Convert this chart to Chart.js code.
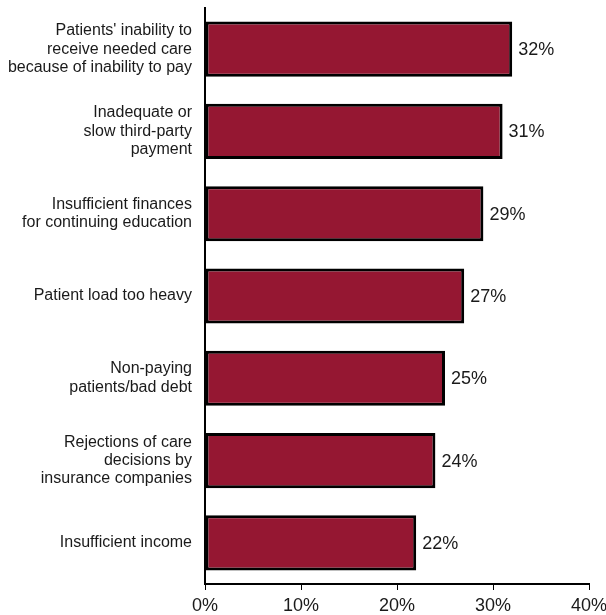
<!DOCTYPE html>
<html>
<head>
<meta charset="utf-8">
<script src="https://cdn.jsdelivr.net/npm/chart.js@4.4.1/dist/chart.umd.min.js"></script>
<style>
  html, body { margin: 0; padding: 0; background: #fff; }
  #wrap { width: 606px; height: 615px; }
</style>
</head>
<body>
<div id="wrap"><canvas id="c" width="606" height="615"></canvas></div>
<script>
// Survey categories (multi-line labels) and their shares in percent
const categories = [
  ["Patients' inability to", "receive needed care", "because of inability to pay"],
  ["Inadequate or", "slow third-party", "payment"],
  ["Insufficient finances", "for continuing education"],
  ["Patient load too heavy"],
  ["Non-paying", "patients/bad debt"],
  ["Rejections of care", "decisions by", "insurance companies"],
  ["Insufficient income"]
];
const shares = [32, 31, 29, 27, 25, 24, 22];
const axisTicks = [0, 10, 20, 30, 40];

const FONT = "'Liberation Sans', Arial, sans-serif";

// Writes the percentage just past the end of each bar
const valueLabels = {
  id: 'valueLabels',
  afterDatasetsDraw(chart) {
    const ctx = chart.ctx;
    const meta = chart.getDatasetMeta(0);
    ctx.save();
    ctx.font = '18px ' + FONT;
    ctx.fillStyle = '#1a1a1a';
    ctx.textAlign = 'left';
    ctx.textBaseline = 'middle';
    meta.data.forEach((bar, i) => {
      ctx.fillText(shares[i] + '%', bar.x + 6, bar.y + 1);
    });
    ctx.restore();
  }
};

new Chart(document.getElementById('c'), {
  type: 'bar',
  data: {
    labels: categories,
    datasets: [{
      data: shares,
      backgroundColor: '#951732',
      borderColor: '#000000',
      borderWidth: 3,
      borderSkipped: false,
      categoryPercentage: 1,
      barPercentage: 0.67
    }]
  },
  options: {
    indexAxis: 'y',
    responsive: false,
    animation: false,
    devicePixelRatio: 1,
    layout: { padding: { top: 8, right: 17, left: 0, bottom: 0 } },
    plugins: {
      legend: { display: false },
      tooltip: { enabled: false }
    },
    scales: {
      x: {
        min: 0,
        max: 40,
        afterBuildTicks(scale) {
          scale.ticks = axisTicks.map(v => ({ value: v }));
        },
        afterFit(scale) {
          scale.height = 31;
          scale.paddingLeft = 0;
          scale.paddingRight = 0;
        },
        border: { display: true, color: '#000', width: 2 },
        grid: {
          drawOnChartArea: false,
          drawTicks: true,
          tickLength: 6,
          color: '#000',
          lineWidth: 1
        },
        ticks: {
          padding: 5,
          maxRotation: 0,
          color: '#1a1a1a',
          font: { family: FONT, size: 18 },
          callback: v => v + '%'
        }
      },
      y: {
        afterFit(scale) {
          scale.width = 205;
          scale.paddingTop = 0;
          scale.paddingBottom = 0;
        },
        border: { display: true, color: '#000', width: 2 },
        grid: { display: false, drawTicks: false },
        ticks: {
          padding: 13,
          color: '#1a1a1a',
          font: { family: FONT, size: 16, lineHeight: 1.15 }
        }
      }
    }
  },
  plugins: [valueLabels]
});
</script>
</body>
</html>
